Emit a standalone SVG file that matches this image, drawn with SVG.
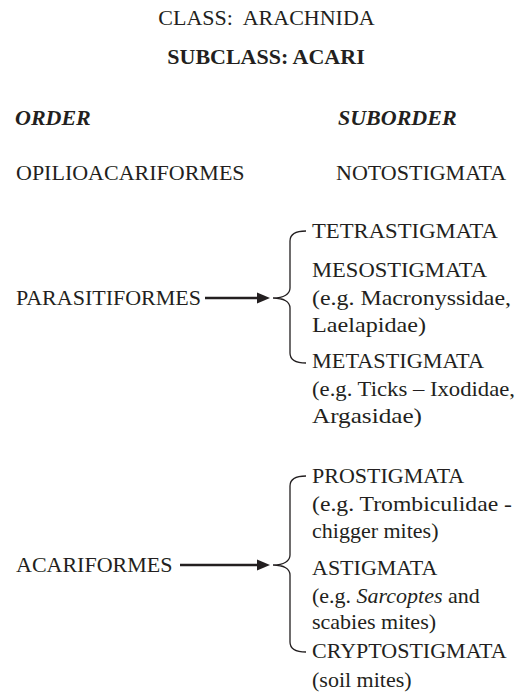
<svg xmlns="http://www.w3.org/2000/svg" width="522" height="694" viewBox="0 0 522 694">
<defs>
<style>
text{font-family:"Liberation Serif","Times New Roman",serif;font-size:22px;fill:#231f20;white-space:pre}
.b{font-weight:bold}
.bi{font-weight:bold;font-style:italic}
.i{font-style:italic}
.mid{text-anchor:middle}
.conn line{stroke:#231f20;stroke-width:2.5}
.conn polygon{fill:#231f20}
.conn path{fill:none;stroke:#231f20;stroke-width:1.3}
</style>
</defs>
<rect width="522" height="694" fill="#fff"/>
<g id="title">
<text x="266.5" y="25" class="mid" xml:space="preserve">CLASS:  ARACHNIDA</text>
<text x="266" y="64" class="mid b">SUBCLASS: ACARI</text>
</g>
<g id="headers">
<text x="15" y="125" class="bi">ORDER</text>
<text x="338" y="125" class="bi">SUBORDER</text>
</g>
<g id="opilioacariformes"><text x="16" y="180">OPILIOACARIFORMES</text></g>
<g id="notostigmata"><text x="336" y="180">NOTOSTIGMATA</text></g>
<g id="parasitiformes"><text x="16" y="305">PARASITIFORMES</text></g>
<g id="tetrastigmata"><text x="312" y="238" textLength="186" lengthAdjust="spacingAndGlyphs">TETRASTIGMATA</text></g>
<g id="mesostigmata">
<text x="312" y="277" textLength="175" lengthAdjust="spacingAndGlyphs">MESOSTIGMATA</text>
<text x="312" y="305" textLength="199" lengthAdjust="spacingAndGlyphs">(e.g. Macronyssidae,</text>
<text x="312" y="332" textLength="114" lengthAdjust="spacingAndGlyphs">Laelapidae)</text>
</g>
<g id="metastigmata">
<text x="312" y="368" textLength="172" lengthAdjust="spacingAndGlyphs">METASTIGMATA</text>
<text x="312" y="396" textLength="203" lengthAdjust="spacingAndGlyphs">(e.g. Ticks – Ixodidae,</text>
<text x="312" y="423" textLength="110" lengthAdjust="spacingAndGlyphs">Argasidae)</text>
</g>
<g id="acariformes"><text x="16" y="572">ACARIFORMES</text></g>
<g id="prostigmata">
<text x="312" y="483">PROSTIGMATA</text>
<text x="312" y="511" textLength="200" lengthAdjust="spacingAndGlyphs">(e.g. Trombiculidae -</text>
<text x="312" y="538">chigger mites)</text>
</g>
<g id="astigmata">
<text x="312" y="575">ASTIGMATA</text>
<text x="312" y="603">(e.g. <tspan class="i">Sarcoptes</tspan> and</text>
<text x="312" y="629">scabies mites)</text>
</g>
<g id="cryptostigmata">
<text x="312" y="658">CRYPTOSTIGMATA</text>
<text x="312" y="687">(soil mites)</text>
</g>
<g id="connectors" class="conn">
<line x1="205" y1="298" x2="259" y2="298"/>
<polygon points="270,298 257,292.5 257,303.5"/>
<path d="M306,231 C296,231 290,234 290,241 L290,288 C290,294 284,298 273,298 C284,298 290,302 290,308 L290,353 C290,360 296,363 306,363"/>
<line x1="180" y1="565" x2="259" y2="565"/>
<polygon points="270,565 257,559.5 257,570.5"/>
<path d="M306,476 C296,476 290,479 290,486 L290,555 C290,561 284,565 273,565 C284,565 290,569 290,575 L290,642 C290,649 296,652 306,652"/>
</g>
</svg>
